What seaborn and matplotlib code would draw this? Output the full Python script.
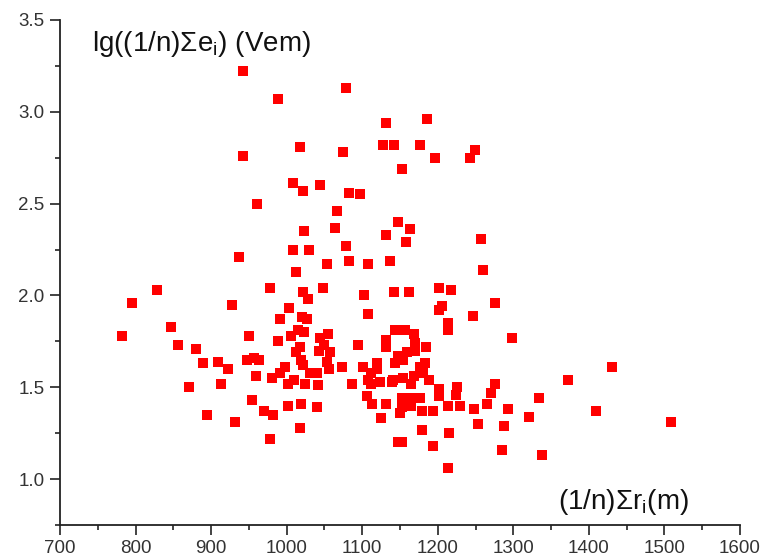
import matplotlib
matplotlib.use("Agg")
import matplotlib.pyplot as plt
import seaborn as sns
import numpy as np
import pandas as pd
from matplotlib.ticker import MultipleLocator

# mean distance (1/n)Σr_i (m)
r_mean = [782, 795, 828, 847, 856, 880, 871, 889, 895, 909, 913, 922, 928, 931, 937, 942, 942,
          950, 948, 957, 964, 954, 960, 961, 970, 978, 978, 980, 982, 988, 988, 991, 991, 998,
          1002, 1002, 1003, 1006, 1010, 1009, 1009, 1018, 1021, 1023, 1013, 1030, 1013, 1015,
          1021, 1020, 1023, 1027, 1028, 1018, 1019, 1019, 1022, 1024, 1018, 1031, 1040, 1041,
          1040, 1043, 1044, 1048, 1049, 1053, 1055, 1057, 1056, 1053, 1073, 1083, 1086, 1094,
          1102, 1107, 1108, 1101, 1106, 1113, 1125, 1131, 1132, 1131, 1143, 1142, 1137, 1139,
          1148, 1079, 1074, 1082, 1097, 1044, 1066, 1064, 1079, 1132, 1128, 1142, 1132, 1152,
          1147, 1186, 1177, 1196, 1249, 1242, 1163, 1158, 1257, 1260, 1162, 1201, 1218, 1276,
          1205, 1202, 1246, 1214, 1213, 1298, 1431, 1373, 1276, 1270, 1265, 1248, 1226, 1224,
          1202, 1201, 1214, 1229, 1194, 1179, 1179, 1215, 1194, 1153, 1213, 1253, 1288, 1293,
          1285, 1321, 1334, 1338, 1409, 1509, 1185, 1156, 1168, 1170, 1170, 1159, 1148, 1143,
          1154, 1183, 1176, 1119, 1112, 1108, 1123, 1112, 1141, 1154, 1168, 1181, 1188, 1165,
          1152, 1163, 1176, 1152, 1165, 1150, 1119]
# lg((1/n)Σe_i)
lg_e = [1.78, 1.96, 2.03, 1.83, 1.73, 1.71, 1.50, 1.63, 1.35, 1.64, 1.52, 1.60, 1.95, 1.31, 2.21, 2.76, 3.22,
        1.78, 1.65, 1.66, 1.65, 1.43, 1.56, 2.50, 1.37, 2.04, 1.22, 1.55, 1.35, 1.75, 3.07, 1.87, 1.58, 1.61,
        1.52, 1.40, 1.93, 1.78, 1.54, 2.61, 2.25, 2.81, 2.57, 2.35, 2.13, 2.25, 1.69, 1.81,
        2.02, 1.88, 1.80, 1.87, 1.98, 1.28, 1.41, 1.65, 1.62, 1.52, 1.72, 1.58, 1.58, 1.51,
        1.39, 1.70, 1.77, 2.04, 1.73, 1.64, 1.79, 1.69, 1.60, 2.17, 1.61, 2.19, 1.52, 1.73,
        2.00, 1.90, 2.17, 1.61, 1.45, 1.41, 1.33, 1.41, 1.76, 1.72, 1.81, 2.02, 2.19, 1.53,
        1.20, 3.13, 2.78, 2.56, 2.55, 2.60, 2.46, 2.37, 2.27, 2.94, 2.82, 2.82, 2.33, 2.69,
        2.40, 2.96, 2.82, 2.75, 2.79, 2.75, 2.36, 2.29, 2.31, 2.14, 2.02, 2.04, 2.03, 1.96,
        1.94, 1.92, 1.89, 1.85, 1.81, 1.77, 1.61, 1.54, 1.52, 1.47, 1.41, 1.38, 1.50, 1.46,
        1.49, 1.45, 1.40, 1.40, 1.37, 1.37, 1.27, 1.25, 1.18, 1.20, 1.06, 1.30, 1.29, 1.38,
        1.16, 1.34, 1.44, 1.13, 1.37, 1.31, 1.72, 1.81, 1.79, 1.74, 1.70, 1.69, 1.67, 1.63,
        1.65, 1.63, 1.61, 1.63, 1.58, 1.54, 1.53, 1.52, 1.54, 1.55, 1.56, 1.58, 1.54, 1.52,
        1.44, 1.44, 1.44, 1.39, 1.40, 1.36, 1.60]

x_ticks = [700, 800, 900, 1000, 1100, 1200, 1300, 1400, 1500, 1600]
y_ticks = [1.0, 1.5, 2.0, 2.5, 3.0, 3.5]
y_title = r"lg((1/n)Σe$_\mathregular{i}$) (Vem)"
x_title = r"(1/n)Σr$_\mathregular{i}$(m)"

sns.set_theme(style="ticks")
plt.rcParams['font.family'] = ['Liberation Sans', 'DejaVu Sans']

df = pd.DataFrame({"r": r_mean, "e": lg_e})

fig = plt.figure(figsize=(7.66, 5.60), dpi=100)
ax = fig.add_axes([60/766, 1 - 525/560, 680/766, 505/560])
sns.scatterplot(data=df, x="r", y="e", marker="s", color="#ff0000", s=60,
                linewidth=0, ax=ax, zorder=3, clip_on=False)

ax.set_xlim(700, 1600)
ax.set_ylim(0.75, 3.5)
ax.set_xticks(x_ticks)
ax.set_xticklabels([str(t) for t in x_ticks])
ax.set_yticks(y_ticks)
ax.set_yticklabels([f"{t:.1f}" for t in y_ticks])
ax.xaxis.set_minor_locator(MultipleLocator(50))
ax.yaxis.set_minor_locator(MultipleLocator(0.25))
ax.tick_params(which="major", direction="out", length=7, width=1.2, colors="#222222",
               labelsize=13.5, labelcolor="#333333", pad=4)
ax.tick_params(which="minor", direction="out", length=3.5, width=1.2, colors="#222222")
for side in ["top", "right"]:
    ax.spines[side].set_visible(False)
for side in ["left", "bottom"]:
    ax.spines[side].set_linewidth(1.3)
    ax.spines[side].set_color("#222222")
ax.set_xlabel("")
ax.set_ylabel("")

fig.text(92/766, 1 - 51/560, y_title, fontsize=20, color="#111111", ha="left", va="baseline")
fig.text(558/766, 1 - 509/560, x_title, fontsize=20, color="#111111", ha="left", va="baseline")

fig.savefig("out.png", dpi=100)
